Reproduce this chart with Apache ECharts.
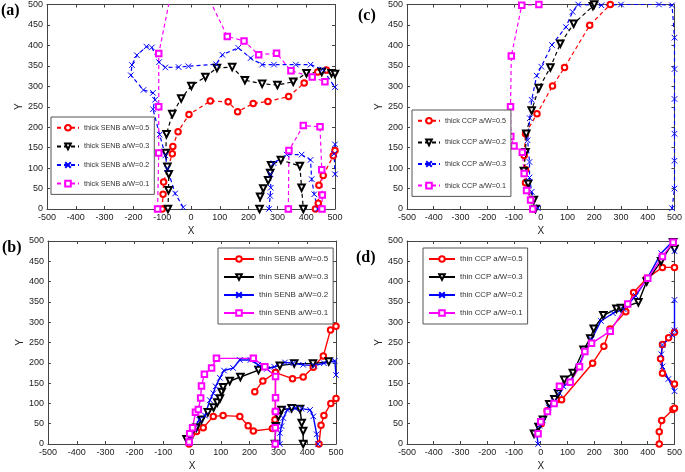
<!DOCTYPE html>
<html><head><meta charset="utf-8">
<script src="https://cdn.jsdelivr.net/npm/echarts@6/dist/echarts.min.js"></script>
<style>html,body{margin:0;padding:0;background:#fff}#c{width:685px;height:472px}</style>
</head><body><div id="c"></div>
<script>
// ---------- tick setup ----------
const xMin = -500, xMax = 500, xStep = 100;
const yMin = 0, yMax = 500, yStep = 50;
const panelLabels = ['(a)', '(b)', '(c)', '(d)'];

// ---------- legend names ----------
const namesA = ['thick SENB a/W=0.5', 'thick SENB a/W=0.3', 'thick SENB a/W=0.2', 'thick SENB a/W=0.1'];
const namesB = ['thin SENB a/W=0.5', 'thin SENB a/W=0.3', 'thin SENB a/W=0.2', 'thin SENB a/W=0.1'];
const namesC = ['thick CCP a/W=0.5', 'thick CCP a/W=0.2', 'thick CCP a/W=0.3', 'thick CCP a/W=0.1'];
const namesD = ['thin CCP a/W=0.5', 'thin CCP a/W=0.3', 'thin CCP a/W=0.2', 'thin CCP a/W=0.1'];

// ---------- panel (a): thick SENB ----------
const a05_1 = [[-100,0],[-97,36],[-95,66],[-65,135],[-63,153],[-45,189],[-7,231],[67,264],[129,262],[162,238],[216,258],[267,263],[339,275],[393,308],[440,335],[470,340]];
const a05_2 = [[432,0],[442,14],[444,58],[459,82],[494,130],[500,143]];
const a03_1 = [[-80,0],[-78,46],[-77,85],[-82,103],[-88,137],[-85,183],[-65,232],[-34,270],[1,301],[50,323],[90,345],[143,347],[187,315],[247,306],[300,303],[355,311],[401,332],[454,335],[488,332],[500,330]];
const a03_2 = [[238,0],[240,30],[251,50],[268,70],[275,88],[278,107],[312,120],[378,105],[384,52],[390,0]];
const a02_1 = [[-27,4],[-55,38],[-82,98],[-89,131],[-109,182],[-132,244],[-125,267],[-132,284],[-165,291],[-209,327],[-205,352],[-188,376],[-155,397],[-136,395],[-111,359],[-89,346],[-43,347],[-9,349],[87,354],[109,377],[164,394],[207,369],[247,353],[288,353],[364,353],[415,353],[457,341],[500,298]];
const a02_2 = [[271,0],[275,32],[277,52],[276,85],[287,112],[332,133],[384,133],[415,120],[419,73],[428,36],[440,0]];
const a02_3 = [[500,158],[497,135],[500,85]];
const a01_1 = [[-116,0],[-112,137],[-112,250],[-112,380],[-66,540]];
const a01_2 = [[55,525],[126,422],[184,411],[235,377],[297,381],[347,338],[421,323],[465,311]];
const a01_3 = [[338,0],[340,143],[390,204],[448,201],[454,96],[456,34],[455,0]];

// ---------- panel (b): thin SENB ----------
const b05_1 = [[-10,0],[16,31],[39,40],[74,68],[108,70],[166,68],[195,45],[213,32],[279,38],[288,60],[289,80],[290,176],[349,161],[386,165],[421,189],[456,217],[481,281],[500,290]];
const b05_2 = [[218,129],[246,155],[290,176]];
const b05_3 = [[441,0],[448,46],[458,70],[482,100],[500,112]];
const b03_1 = [[-19,12],[-4,24],[15,40],[33,60],[55,78],[75,90],[88,102],[97,112],[103,128],[108,140],[131,155],[168,165],[231,182],[305,193],[355,198],[420,198],[475,203]];
const b03_2 = [[288,0],[291,44],[300,68],[311,84],[346,88],[375,86],[381,52],[386,32],[386,0]];
const b02_1 = [[-10,2],[-5,20],[10,40],[25,60],[45,70],[62,108],[74,125],[82,142],[97,163],[111,181],[143,187],[166,207],[203,207],[230,195],[260,185],[286,190],[323,201],[352,199],[386,195],[424,193],[458,199],[496,205],[500,170]];
const b02_2 = [[305,0],[305,27],[311,44],[317,64],[331,84],[358,88],[380,87],[410,84],[421,68],[433,24],[438,0]];
const b01_1 = [[-10,5],[-8,25],[2,40],[12,78],[22,85],[30,113],[33,143],[43,172],[68,187],[85,211],[213,211],[253,190],[290,166],[290,114],[290,80],[289,40],[289,0]];

// ---------- panel (c): thick CCP ----------
const c05_1 = [[-30,0],[-34,22],[-57,64],[-57,96],[-62,131],[-57,184],[-14,233],[44,301],[89,346],[183,449],[260,500]];
const c02_1 = [[-20,0],[-26,22],[-47,62],[-63,93],[-57,139],[-54,184],[-34,241],[-7,296],[36,346],[73,404],[123,453],[195,496],[200,500]];
const c03_1 = [[-11,2],[-34,42],[-42,77],[-42,115],[-49,168],[-41,222],[-34,267],[-15,326],[2,348],[42,401],[94,445],[119,482],[140,500],[227,498],[300,500],[442,500],[491,498],[500,419],[500,342],[500,269],[500,184],[500,118],[500,50],[491,2]];
const c01_1 = [[-30,0],[-38,22],[-53,45],[-62,87],[-69,139],[-100,154],[-112,177],[-113,250],[-110,374],[-71,498],[-7,500]];

// ---------- panel (d): thin CCP ----------
const d05_1 = [[-20,26],[2,50],[24,82],[60,109],[78,109],[194,199],[236,241],[259,283],[318,326],[347,373],[396,408],[455,435],[500,435]];
const d05_2 = [[500,148],[455,174],[448,210],[455,245],[478,262],[500,275]];
const d05_3 = [[443,0],[443,30],[452,58],[494,85],[500,88]];
const d03_1 = [[-25,25],[-8,42],[8,60],[32,98],[51,110],[65,125],[88,158],[120,175],[160,232],[185,260],[198,284],[234,317],[283,333],[300,335],[365,349],[396,400],[450,450],[495,497],[500,480]];
const d02_1 = [[-10,0],[-15,25],[-5,45],[8,58],[30,90],[50,105],[70,125],[85,142],[110,155],[140,190],[165,228],[190,258],[225,303],[270,322],[310,332],[355,365],[400,410],[450,470],[490,497],[500,475]];
const d02_2 = [[500,130],[477,160],[455,191],[451,221],[455,244],[492,268],[500,280],[500,355]];
const d01_1 = [[-10,25],[0,55],[25,80],[50,100],[70,142],[110,152],[145,190],[165,228],[190,248],[260,278],[325,345],[400,408],[455,462],[495,497]];

// ---------- styling ----------
const RED = '#ff0000', BLK = '#000000', BLU = '#0000ff', MAG = '#ff00ff';
const XSYM = 'path://M0,0L10,10M10,0L0,10';
const sty = {
  circle: {symbol: 'emptyCircle', rot: 0, size: 5.5},
  tri: {symbol: 'emptyTriangle', rot: 180, size: 6.5},
  x: {symbol: XSYM, rot: 0, size: 5.5},
  sq: {symbol: 'emptyRect', rot: 0, size: 5.5}
};

const series = [];
function add(panel, name, data, color, mk, dashed) {
  series.push({
    type: 'line', name: name, data: data,
    xAxisIndex: panel * 2, yAxisIndex: panel * 2,
    symbol: mk.symbol, symbolRotate: mk.rot, symbolSize: mk.size,
    showAllSymbol: true, animation: false, clip: true,
    lineStyle: {color: color, width: dashed ? 1.2 : 1.4, type: dashed ? [4, 3] : 'solid'},
    itemStyle: {color: color, borderColor: color, borderWidth: 1},
    emphasis: {disabled: true}
  });
}
// panel index: 0=a, 1=b, 2=c, 3=d
[a05_1, a05_2].forEach(d => add(0, namesA[0], d, RED, sty.circle, true));
[a03_1, a03_2].forEach(d => add(0, namesA[1], d, BLK, sty.tri, true));
[a02_1, a02_2, a02_3].forEach(d => add(0, namesA[2], d, BLU, sty.x, true));
[a01_1, a01_2, a01_3].forEach(d => add(0, namesA[3], d, MAG, sty.sq, true));

[b05_1, b05_2, b05_3].forEach(d => add(1, namesB[0], d, RED, sty.circle, false));
[b03_1, b03_2].forEach(d => add(1, namesB[1], d, BLK, sty.tri, false));
[b02_1, b02_2].forEach(d => add(1, namesB[2], d, BLU, sty.x, false));
[b01_1].forEach(d => add(1, namesB[3], d, MAG, sty.sq, false));

[c05_1].forEach(d => add(2, namesC[0], d, RED, sty.circle, true));
[c02_1].forEach(d => add(2, namesC[1], d, BLK, sty.tri, true));
[c03_1].forEach(d => add(2, namesC[2], d, BLU, sty.x, true));
[c01_1].forEach(d => add(2, namesC[3], d, MAG, sty.sq, true));

[d05_1, d05_2, d05_3].forEach(d => add(3, namesD[0], d, RED, sty.circle, false));
[d03_1].forEach(d => add(3, namesD[1], d, BLK, sty.tri, false));
[d02_1, d02_2].forEach(d => add(3, namesD[2], d, BLU, sty.x, false));
[d01_1].forEach(d => add(3, namesD[3], d, MAG, sty.sq, false));

// ---------- layout ----------
const grids = [
  {left: 47, top: 3, width: 288, height: 206},
  {left: 48, top: 241, width: 288, height: 207},
  {left: 407, top: 3, width: 270, height: 206},
  {left: 407, top: 241, width: 272, height: 206}
];
const FONT = 'Liberation Sans, Arial, sans-serif';
const xAxes = [], yAxes = [];
grids.forEach((g, i) => {
  const common = {
    gridIndex: i, type: 'value', splitLine: {show: false},
    axisLine: {show: true, onZero: false, lineStyle: {color: '#444', width: 1}},
    axisTick: {show: true, inside: true, length: 3, lineStyle: {color: '#444'}}
  };
  xAxes.push(Object.assign({}, common, {
    position: 'bottom', min: xMin, max: xMax, interval: xStep,
    axisLabel: {fontSize: 9, color: '#222', margin: 4, fontFamily: FONT},
    name: 'X', nameLocation: 'middle', nameGap: 17,
    nameTextStyle: {fontSize: 10, color: '#222', fontFamily: FONT}
  }));
  xAxes.push(Object.assign({}, common, {
    position: 'top', min: xMin, max: xMax, interval: xStep, axisLabel: {show: false}
  }));
  yAxes.push(Object.assign({}, common, {
    position: 'left', min: yMin, max: yMax, interval: yStep,
    axisLabel: {fontSize: 9, color: '#222', margin: 4, fontFamily: FONT},
    name: 'Y', nameLocation: 'middle', nameGap: 21, nameRotate: 90,
    nameTextStyle: {fontSize: 10, color: '#222', fontFamily: FONT}
  }));
  yAxes.push(Object.assign({}, common, {
    position: 'right', min: yMin, max: yMax, interval: yStep, axisLabel: {show: false}
  }));
});

function legend(names, left, top, iw, gap, fs) {
  return {
    data: names, left: left, top: top, orient: 'vertical', selectedMode: false,
    itemWidth: iw, itemHeight: 7, itemGap: gap, padding: [7, 5, 7, 5],
    textStyle: {fontSize: fs, color: '#333', fontFamily: FONT},
    borderColor: '#555', borderWidth: 1, backgroundColor: '#fff'
  };
}

const labelPos = [[1, 3], [2, 240], [358, 8], [356, 250]];
const option = {
  backgroundColor: '#fff',
  animation: false,
  grid: grids,
  xAxis: xAxes,
  yAxis: yAxes,
  legend: [
    legend(namesA, 51, 117, 22, 11, 7.2),
    legend(namesB, 218, 248, 30, 10, 8),
    legend(namesC, 412, 110, 22, 14, 7.2),
    legend(namesD, 423, 248, 26, 10, 7.8)
  ],
  graphic: panelLabels.map((t, i) => ({
    type: 'text', left: labelPos[i][0], top: labelPos[i][1],
    style: {text: t, font: 'bold 16px "Liberation Serif", "DejaVu Serif", serif', fill: '#000'}
  })),
  series: series
};
echarts.init(document.getElementById('c')).setOption(option);
</script>
</body></html>
